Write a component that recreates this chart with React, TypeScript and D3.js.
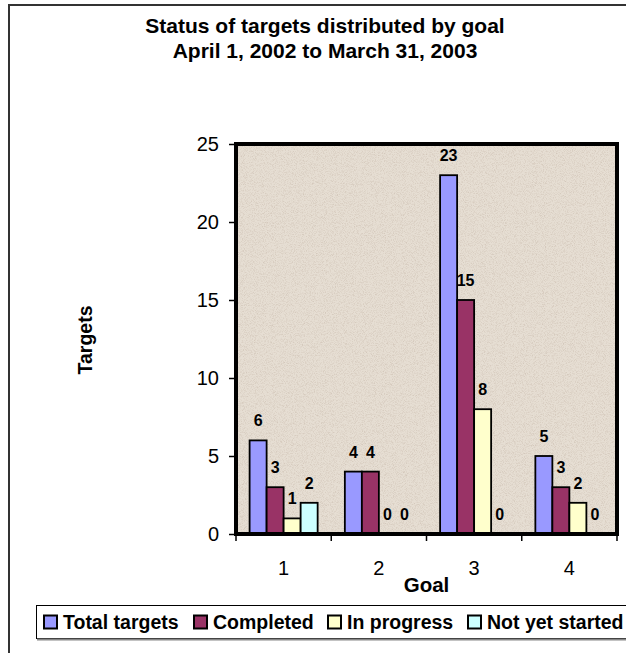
import React, { useEffect, useRef } from 'react';
import * as d3 from 'd3';

const goals = ['1', '2', '3', '4'];
const seriesNames = ['Total targets', 'Completed', 'In progress', 'Not yet started'];
const totalTargets = [6, 4, 23, 5];
const completed = [3, 4, 15, 3];
const inProgress = [1, 0, 8, 2];
const notYetStarted = [2, 0, 0, 0];
const seriesColors = ['#9999FF', '#993366', '#FFFFCC', '#CCFFFF'];
const yTicks = [0, 5, 10, 15, 20, 25];
const titleLines = ['Status of targets distributed by goal', 'April 1, 2002 to March 31, 2003'];

const FONT = 'Arial, "Liberation Sans", sans-serif';

const App: React.FC = () => {
  const svgRef = useRef<SVGSVGElement>(null);

  useEffect(() => {
    if (!svgRef.current) return;
    const svg = d3.select(svgRef.current);
    svg.selectAll('*').remove();

    const width = 626;
    const height = 653;
    svg.attr('width', width).attr('height', height);

    const values = [totalTargets, completed, inProgress, notYetStarted];
    const plot = { left: 236, right: 617, top: 144, bottom: 534 };

    // granite-like texture for the plot area
    const defs = svg.append('defs');
    const filter = defs.append('filter').attr('id', 'granite').attr('x', 0).attr('y', 0).attr('width', 1).attr('height', 1);
    filter
      .append('feTurbulence')
      .attr('type', 'fractalNoise')
      .attr('baseFrequency', 1.1)
      .attr('numOctaves', 3)
      .attr('seed', 7);
    filter
      .append('feColorMatrix')
      .attr('type', 'matrix')
      .attr('values', '0 0 0 0 0.66  0 0 0 0 0.58  0 0 0 0 0.5  2.4 0 0 0 -1.05');

    // outer chart border
    svg
      .append('rect')
      .attr('x', 9)
      .attr('y', 5)
      .attr('width', 700)
      .attr('height', 700)
      .attr('fill', '#fff')
      .attr('stroke', '#333')
      .attr('stroke-width', 2);

    const title = svg.append('g').attr('font-family', FONT).attr('font-weight', 'bold').attr('font-size', 21).attr('text-anchor', 'middle');
    titleLines.forEach((t, i) => {
      title.append('text').attr('x', 325).attr('y', 33 + i * 25).text(t);
    });

    const x0 = d3.scaleBand<string>().domain(goals).range([plot.left, plot.right]).paddingInner(0).paddingOuter(0);
    const x1 = d3.scaleBand<string>().domain(seriesNames).range([0, x0.bandwidth()]).paddingInner(0).paddingOuter(0.8);
    const y = d3.scaleLinear().domain([0, 25]).range([plot.bottom, plot.top]);

    svg
      .append('rect')
      .attr('x', plot.left)
      .attr('y', plot.top)
      .attr('width', plot.right - plot.left)
      .attr('height', plot.bottom - plot.top)
      .attr('fill', '#E6DED3');
    svg
      .append('rect')
      .attr('x', plot.left)
      .attr('y', plot.top)
      .attr('width', plot.right - plot.left)
      .attr('height', plot.bottom - plot.top)
      .attr('filter', 'url(#granite)');

    // bars
    const groups = svg
      .append('g')
      .selectAll('g')
      .data(goals)
      .join('g')
      .attr('transform', (g) => `translate(${x0(g)},0)`);

    groups.each(function (g, gi) {
      const grp = d3.select(this);
      seriesNames.forEach((s, si) => {
        const v = values[si][gi];
        const bx = x1(s) as number;
        if (v > 0) {
          grp
            .append('rect')
            .attr('x', bx)
            .attr('y', y(v))
            .attr('width', x1.bandwidth())
            .attr('height', y(0) - y(v))
            .attr('fill', seriesColors[si])
            .attr('stroke', '#000')
            .attr('stroke-width', 1.8);
        }
        grp
          .append('text')
          .attr('x', bx + x1.bandwidth() / 2)
          .attr('y', y(v) - 14)
          .attr('text-anchor', 'middle')
          .attr('font-family', FONT)
          .attr('font-weight', 'bold')
          .attr('font-size', 16)
          .text(v);
      });
    });

    // plot border
    svg
      .append('rect')
      .attr('x', plot.left)
      .attr('y', plot.top)
      .attr('width', plot.right - plot.left)
      .attr('height', plot.bottom - plot.top)
      .attr('fill', 'none')
      .attr('stroke', '#000')
      .attr('stroke-width', 4);

    // y axis
    const yAxis = svg
      .append('g')
      .attr('transform', `translate(${plot.left},0)`)
      .call(d3.axisLeft(y).tickValues(yTicks).tickSize(7).tickPadding(10));
    yAxis.select('.domain').remove();
    yAxis.selectAll('line').attr('stroke', '#000').attr('stroke-width', 1.5);
    yAxis.selectAll('text').attr('font-family', FONT).attr('font-size', 20).attr('fill', '#000');

    // x axis: ticks at band boundaries, labels at band centres
    const xAxis = svg.append('g');
    const boundaries = goals.map((g) => x0(g) as number).concat([plot.right]);
    xAxis
      .selectAll('line')
      .data(boundaries)
      .join('line')
      .attr('x1', (d) => d)
      .attr('x2', (d) => d)
      .attr('y1', plot.bottom)
      .attr('y2', plot.bottom + 7)
      .attr('stroke', '#000')
      .attr('stroke-width', 1.5);
    xAxis
      .selectAll('text')
      .data(goals)
      .join('text')
      .attr('x', (g) => (x0(g) as number) + x0.bandwidth() / 2)
      .attr('y', 575)
      .attr('text-anchor', 'middle')
      .attr('font-family', FONT)
      .attr('font-size', 20)
      .text((g) => g);

    svg
      .append('text')
      .attr('x', (plot.left + plot.right) / 2)
      .attr('y', 592)
      .attr('text-anchor', 'middle')
      .attr('font-family', FONT)
      .attr('font-weight', 'bold')
      .attr('font-size', 20.5)
      .text('Goal');

    svg
      .append('text')
      .attr('transform', 'translate(92,340) rotate(-90)')
      .attr('text-anchor', 'middle')
      .attr('font-family', FONT)
      .attr('font-weight', 'bold')
      .attr('font-size', 19.5)
      .text('Targets');

    // legend
    const legend = svg.append('g');
    legend
      .append('rect')
      .attr('x', 36.5)
      .attr('y', 605.5)
      .attr('width', 620)
      .attr('height', 33)
      .attr('fill', '#fff')
      .attr('stroke', '#000')
      .attr('stroke-width', 1);
    legend
      .append('line')
      .attr('x1', 37)
      .attr('x2', 660)
      .attr('y1', 639.5)
      .attr('y2', 639.5)
      .attr('stroke', '#888')
      .attr('stroke-width', 2);
    const legendX = [44, 194, 328, 468];
    seriesNames.forEach((s, i) => {
      legend
        .append('rect')
        .attr('x', legendX[i])
        .attr('y', 615.5)
        .attr('width', 13)
        .attr('height', 13)
        .attr('fill', seriesColors[i])
        .attr('stroke', '#000')
        .attr('stroke-width', 2);
      legend
        .append('text')
        .attr('x', legendX[i] + 19)
        .attr('y', 629)
        .attr('font-family', FONT)
        .attr('font-weight', 'bold')
        .attr('font-size', 19.5)
        .text(s);
    });
  }, []);

  return (
    <div style={{ position: 'absolute', left: 0, top: 0 }}>
      <svg ref={svgRef} style={{ display: 'block' }}></svg>
    </div>
  );
};

export default App;
